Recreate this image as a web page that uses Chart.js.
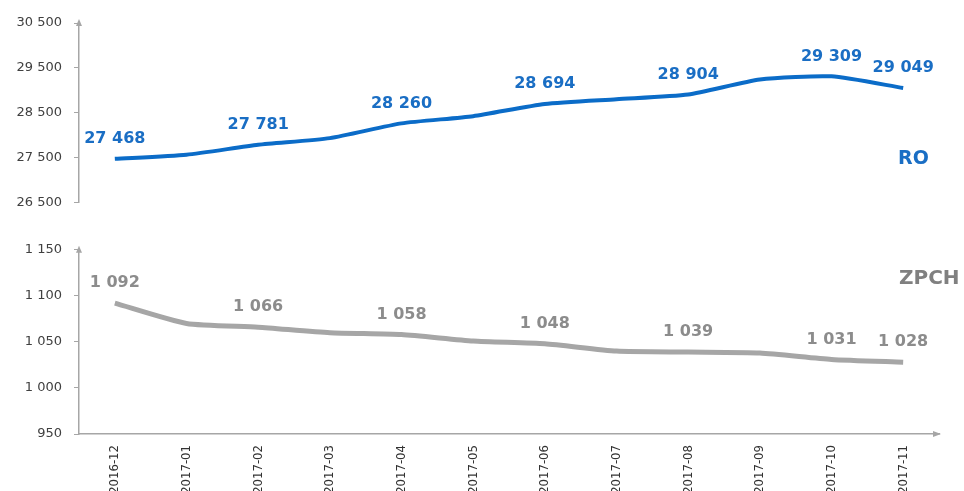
<!DOCTYPE html>
<html>
<head>
<meta charset="utf-8">
<script src="https://cdn.jsdelivr.net/npm/chart.js@4"></script>
<style>
  body { margin: 0; background: #fff; }
  #wrap { position: relative; width: 964px; height: 491px; background: #fff; overflow: hidden; }
  canvas { position: absolute; left: 0; }
  .tag { position: absolute; font-family: 'DejaVu Sans', sans-serif; font-weight: bold; font-size: 20px; }
</style>
</head>
<body>
<div id="wrap">
  <canvas id="topChart" width="964" height="222" style="top:0"></canvas>
  <canvas id="bottomChart" width="964" height="261" style="top:230px"></canvas>
  <div class="tag" style="color:#1a6ec4; left:898px; top:146px; font-size:19px;">RO</div>
  <div class="tag" style="color:#808080; left:899px; top:265px;">ZPCH</div>
</div>
<script>
const months = ['2016-12', '2017-01', '2017-02', '2017-03', '2017-04', '2017-05',
  '2017-06', '2017-07', '2017-08', '2017-09', '2017-10', '2017-11'];
const roValues = [27468, 27560, 27781, 27930, 28260, 28420, 28694, 28800, 28904, 29240, 29309, 29049];
const zpchValues = [1092, 1070, 1066, 1060, 1058, 1051, 1048, 1040, 1039, 1038, 1031, 1028];
const roTicks = [26500, 27500, 28500, 29500, 30500];
const zpchTicks = [950, 1000, 1050, 1100, 1150];
const labelledPoints = [0, 2, 4, 6, 8, 10, 11];

const axisColor = '#a6a6a6';

function fmt(v) {
  return String(v).replace(/\B(?=(\d{3})+(?!\d))/g, ' ');
}

// value labels above selected points
const valueLabels = {
  id: 'valueLabels',
  afterDatasetsDraw(chart, args, opts) {
    const ctx = chart.ctx;
    const meta = chart.getDatasetMeta(0);
    const values = chart.data.datasets[0].data;
    ctx.save();
    ctx.font = 'bold 16px "DejaVu Sans"';
    ctx.fillStyle = opts.color;
    ctx.textAlign = 'center';
    ctx.textBaseline = 'middle';
    labelledPoints.forEach((i) => {
      const pt = meta.data[i];
      ctx.fillText(fmt(values[i]), pt.x, pt.y - 20);
    });
    ctx.restore();
  },
};

// little arrow heads at the axis ends
const axisArrows = {
  id: 'axisArrows',
  afterDraw(chart, args, opts) {
    const ctx = chart.ctx;
    const a = chart.chartArea;
    ctx.save();
    ctx.fillStyle = axisColor;
    ctx.beginPath();
    ctx.moveTo(a.left, a.top - 4);
    ctx.lineTo(a.left - 3, a.top + 3);
    ctx.lineTo(a.left + 3, a.top + 3);
    ctx.fill();
    if (opts.xArrow) {
      ctx.beginPath();
      ctx.moveTo(a.right + 2, a.bottom);
      ctx.lineTo(a.right - 6, a.bottom - 3);
      ctx.lineTo(a.right - 6, a.bottom + 3);
      ctx.fill();
    }
    ctx.restore();
  },
};

function yScale(ticks) {
  return {
    min: ticks[0],
    max: ticks[ticks.length - 1],
    afterBuildTicks: (scale) => { scale.ticks = ticks.map((v) => ({ value: v })); },
    afterFit: (scale) => { scale.width = 79; },
    border: { color: axisColor, width: 1.5 },
    grid: { drawOnChartArea: false, tickLength: 5, color: axisColor },
    ticks: {
      padding: 12,
      color: '#404040',
      font: { family: 'DejaVu Sans', size: 13 },
      callback: (v) => fmt(v),
    },
  };
}

Chart.defaults.animation = false;

new Chart(document.getElementById('topChart'), {
  type: 'line',
  data: {
    labels: months,
    datasets: [{
      label: 'RO',
      data: roValues,
      borderColor: '#0b6cc8',
      borderWidth: 4,
      pointRadius: 0,
      tension: 0.2,
    }],
  },
  options: {
    responsive: false,
    layout: { padding: { top: 23, bottom: 13, left: 0, right: 25 } },
    plugins: {
      legend: { display: false },
      tooltip: { enabled: false },
      valueLabels: { color: '#1a6ec4' },
      axisArrows: { xArrow: false },
    },
    scales: {
      x: { display: false, offset: true },
      y: yScale(roTicks),
    },
  },
  plugins: [valueLabels, axisArrows],
});

new Chart(document.getElementById('bottomChart'), {
  type: 'line',
  data: {
    labels: months,
    datasets: [{
      label: 'ZPCH',
      data: zpchValues,
      borderColor: '#a6a6a6',
      borderWidth: 5,
      pointRadius: 0,
      tension: 0.2,
    }],
  },
  options: {
    responsive: false,
    layout: { padding: { top: 19, bottom: 0, left: 0, right: 25 } },
    plugins: {
      legend: { display: false },
      tooltip: { enabled: false },
      valueLabels: { color: '#8c8c8c' },
      axisArrows: { xArrow: true },
    },
    scales: {
      x: {
        offset: true,
        afterFit: (scale) => { scale.height = 57; },
        border: { color: axisColor, width: 1.5 },
        grid: { display: false, drawTicks: false },
        ticks: {
          padding: 11,
          minRotation: 90,
          maxRotation: 90,
          autoSkip: false,
          color: '#333333',
          font: { family: '"DejaVu Sans Condensed", sans-serif', size: 13 },
        },
      },
      y: yScale(zpchTicks),
    },
  },
  plugins: [valueLabels, axisArrows],
});
</script>
</body>
</html>
